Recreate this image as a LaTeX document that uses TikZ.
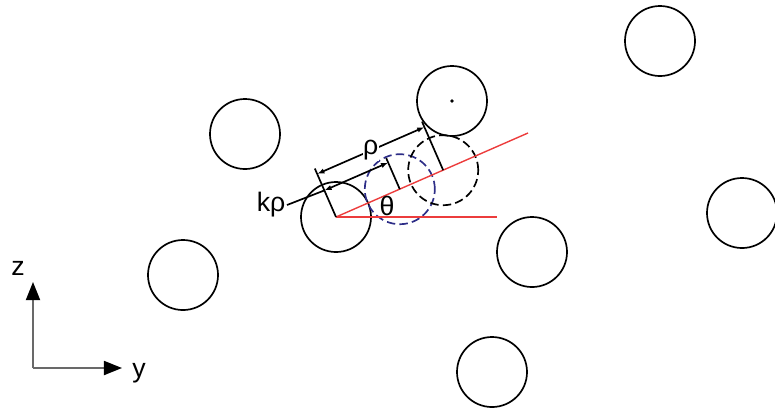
\documentclass[tikz,border=0pt]{standalone}
\usepackage{fontspec}
\setmainfont{Liberation Sans}
\usetikzlibrary{arrows.meta, positioning, calc}
\definecolor{slipred}{RGB}{236,60,60}
\definecolor{slipblue}{RGB}{45,45,135}
\definecolor{axisgray}{RGB}{105,105,105}

\begin{document}
\begin{tikzpicture}[
    x=0.025cm, y=-0.025cm,
    font=\fontsize{19}{21}\selectfont,
    grain/.style={circle, draw, line width=1.2pt, minimum size=1.75cm, inner sep=0pt},
    ghost/.style={grain, dashed, dash pattern=on 6pt off 3pt},
    redline/.style={slipred, line width=1pt},
    extline/.style={line width=1.2pt},
    dimline/.style={line width=1.2pt, {Latex[length=1.8mm,width=1.3mm]}-{Latex[length=1.8mm,width=1.3mm]}},
    axis/.style={axisgray, line width=1.3pt, -{Triangle[length=4.5mm,width=3.5mm,black]}}
]
\useasboundingbox (0,0) rectangle (775,410);

% grains
\node[grain] (g0) at (336,217) {};
\node[grain] (g1) at (245,134) {};
\node[grain] (g2) at (183,275) {};
\node[grain] (g3) at (452,101) {};
\node[grain] (g4) at (660,41) {};
\node[grain] (g5) at (742,213) {};
\node[grain] (g6) at (532,252) {};
\node[grain] (g7) at (492,372) {};
\fill (g3.center) circle[radius=1.3pt];

% displaced positions
\node[ghost, slipblue] (near) at (399.8,189.2) {};
\node[ghost] (far) at (443.2,170.2) {};

% slip direction and reference
\coordinate (slipend) at (528,133);
\coordinate (horzend) at (497,217);
\draw[redline] (g0.center) -- (slipend);
\draw[redline] (g0.center) -- (horzend);
\node[inner sep=0pt] (theta) at (387,206) {θ};

% extension lines
\coordinate (extO) at (314.8,168.5);
\coordinate (extF) at (422,121.6);
\coordinate (extN) at (386.2,158.1);
\draw[extline] (g0.center) -- (extO);
\draw[extline] (far.center) -- (extF);
\draw[extline] (near.center) -- (extN);

% dimensions
\coordinate (rho1) at (317.2,173.9);
\coordinate (rho2) at (424.4,127.1);
\coordinate (krho1) at (324.4,190.4);
\coordinate (krho2) at (388.2,162.6);
\draw[dimline] (rho1) -- (rho2) node[midway, fill=white, inner sep=0.5pt] (rho) {ρ};
\node[anchor=east, inner sep=1pt] (krho) at (287,205) {kρ};
\draw[extline] (krho.east) -- (krho1);
\draw[dimline] (krho1) -- (krho2);

% axes
\coordinate (ax) at (33,368);
\coordinate (az) at (33,282);
\coordinate (ay) at (122,368);
\draw[axis] (ax) -- (az);
\draw[axis] (ax) -- (ay);
\node (zlab) at (18,268) {z};
\node (ylab) at (139,373) {y};
\end{tikzpicture}
\end{document}
